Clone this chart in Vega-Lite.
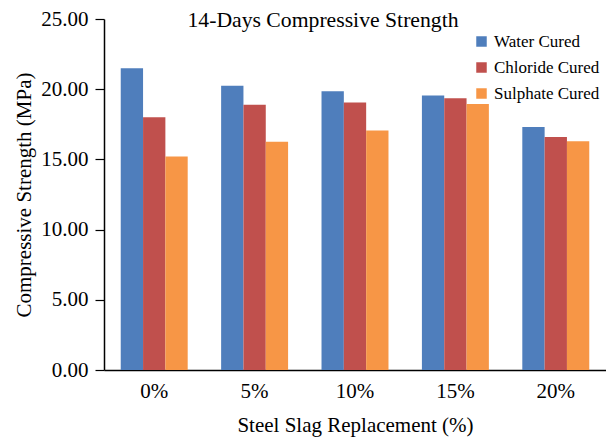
{
  "$schema": "https://vega.github.io/schema/vega-lite/v6.json",
  "width": 502,
  "height": 351,
  "autosize": {"type": "none"},
  "padding": {"left": 104, "top": 19, "right": 0, "bottom": 69},
  "background": "#ffffff",
  "title": {
    "text": "14-Days Compressive Strength",
    "font": "Liberation Serif",
    "fontSize": 21.7,
    "fontWeight": "normal",
    "color": "#000000",
    "orient": "top",
    "anchor": "middle",
    "frame": "group",
    "baseline": "alphabetic",
    "offset": -10,
    "dx": -32,
    "dy": 31
  },
  "data": {
    "values": [
      {"replacement": "0%", "curing": "Water Cured", "strength": 21.5},
      {"replacement": "0%", "curing": "Chloride Cured", "strength": 18.0},
      {"replacement": "0%", "curing": "Sulphate Cured", "strength": 15.2},
      {"replacement": "5%", "curing": "Water Cured", "strength": 20.25},
      {"replacement": "5%", "curing": "Chloride Cured", "strength": 18.9},
      {"replacement": "5%", "curing": "Sulphate Cured", "strength": 16.25},
      {"replacement": "10%", "curing": "Water Cured", "strength": 19.85},
      {"replacement": "10%", "curing": "Chloride Cured", "strength": 19.05},
      {"replacement": "10%", "curing": "Sulphate Cured", "strength": 17.05},
      {"replacement": "15%", "curing": "Water Cured", "strength": 19.55},
      {"replacement": "15%", "curing": "Chloride Cured", "strength": 19.35},
      {"replacement": "15%", "curing": "Sulphate Cured", "strength": 18.95},
      {"replacement": "20%", "curing": "Water Cured", "strength": 17.3},
      {"replacement": "20%", "curing": "Chloride Cured", "strength": 16.6},
      {"replacement": "20%", "curing": "Sulphate Cured", "strength": 16.3}
    ]
  },
  "mark": {"type": "bar"},
  "encoding": {
    "x": {
      "field": "replacement",
      "type": "nominal",
      "sort": ["0%", "5%", "10%", "15%", "20%"],
      "scale": {"paddingInner": 0.333, "paddingOuter": 0.1667},
      "axis": {
        "title": "Steel Slag Replacement (%)",
        "labelAngle": 0,
        "ticks": false,
        "labelPadding": 10,
        "titlePadding": 13,
        "domainColor": "#000000",
        "domainWidth": 1.5
      }
    },
    "xOffset": {
      "field": "curing",
      "type": "nominal",
      "sort": ["Water Cured", "Chloride Cured", "Sulphate Cured"],
      "scale": {"paddingInner": 0, "paddingOuter": 0}
    },
    "y": {
      "field": "strength",
      "type": "quantitative",
      "scale": {"domain": [0, 25], "nice": false},
      "axis": {
        "title": "Compressive Strength (MPa)",
        "values": [0, 5, 10, 15, 20, 25],
        "format": ".2f",
        "grid": false,
        "tickSize": 9,
        "tickColor": "#000000",
        "tickWidth": 1.2,
        "labelPadding": 7,
        "titlePadding": 6,
        "domainColor": "#000000",
        "domainWidth": 1.5
      }
    },
    "color": {
      "field": "curing",
      "type": "nominal",
      "sort": ["Water Cured", "Chloride Cured", "Sulphate Cured"],
      "scale": {
        "domain": ["Water Cured", "Chloride Cured", "Sulphate Cured"],
        "range": ["#4F7EBC", "#C0504D", "#F79646"]
      },
      "legend": {
        "title": null,
        "orient": "none",
        "legendX": 369,
        "legendY": 14,
        "padding": 0,
        "symbolType": "square",
        "symbolSize": 110,
        "symbolStrokeWidth": 0,
        "labelFont": "Liberation Serif",
        "labelFontSize": 17,
        "labelColor": "#000000",
        "labelOffset": 4,
        "rowPadding": 8
      }
    }
  },
  "config": {
    "view": {"stroke": null},
    "axis": {
      "labelFont": "Liberation Serif",
      "labelFontSize": 21,
      "labelColor": "#000000",
      "titleFont": "Liberation Serif",
      "titleFontSize": 21,
      "titleFontWeight": "normal",
      "titleColor": "#000000"
    }
  }
}
